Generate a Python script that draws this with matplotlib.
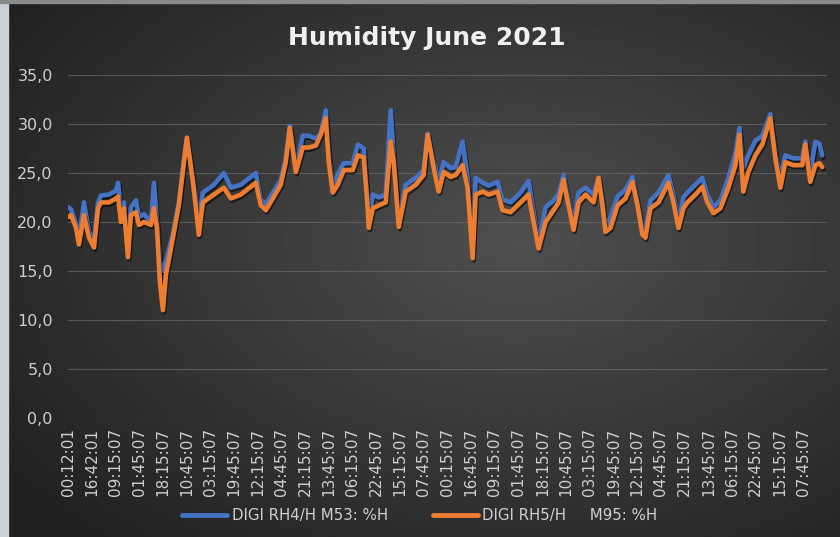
import numpy as np
import matplotlib.pyplot as plt
import matplotlib.patheffects as pe
from matplotlib.ticker import FuncFormatter

# time axis: hours since first sample (one label every 16.5 h)
tick_labels = ["00:12:01", "16:42:01", "09:15:07", "01:45:07", "18:15:07", "10:45:07",
               "03:15:07", "19:45:07", "12:15:07", "04:45:07", "21:15:07", "13:45:07",
               "06:15:07", "22:45:07", "15:15:07", "07:45:07", "00:15:07", "16:45:07",
               "09:15:07", "01:45:07", "18:15:07", "10:45:07", "03:15:07", "19:45:07",
               "12:15:07", "04:45:07", "21:15:07", "13:45:07", "06:15:07", "22:45:07",
               "15:15:07", "07:45:07"]
tick_step = 16.5

# pixel column of each reading in the reference, converted to hours below
px = [67, 70, 75, 78, 83, 88, 93, 97, 100, 108, 115, 117, 120, 123, 127, 130, 135, 138,
      143, 150, 153, 156, 159, 162, 165, 172, 178, 183, 186, 192, 195, 198, 202, 213,
      223, 230, 240, 255, 260, 265, 272, 280, 285, 289, 295, 302, 308, 315, 320, 325,
      328, 332, 337, 343, 352, 357, 363, 367, 368, 372, 378, 385, 390, 393, 398, 405,
      415, 423, 427, 432, 435, 438, 443, 450, 455, 462, 467, 472, 475, 482, 488, 497,
      502, 510, 520, 528, 533, 538, 545, 553, 558, 563, 568, 573, 578, 585, 593, 598,
      602, 605, 610, 617, 625, 632, 637, 642, 645, 650, 658, 668, 673, 678, 683, 687,
      695, 702, 707, 713, 720, 728, 735, 739, 743, 748, 755, 762, 770, 775, 780, 785,
      793, 802, 805, 810, 815, 819, 822]
hours = [round((p - 67) / 23.74 * tick_step, 1) for p in px]

rh4 = [21.5, 21.3, 19.8, 18.2, 22.0, 19.0, 18.0, 22.0, 22.7, 22.8, 23.2, 24.0, 21.0, 22.0,
       17.0, 21.5, 22.2, 20.5, 20.8, 20.0, 24.0, 20.0, 16.0, 15.0, 16.0, 18.8, 22.0, 26.3,
       28.6, 24.5, 22.5, 20.0, 23.0, 23.8, 25.0, 23.5, 23.8, 25.0, 22.3, 21.8, 23.0, 24.3,
       26.5, 29.8, 25.6, 28.8, 28.8, 28.5, 29.0, 31.4, 27.0, 23.6, 24.9, 26.0, 26.0, 27.9,
       27.5, 22.0, 20.0, 22.8, 22.5, 22.8, 31.4, 26.5, 20.0, 23.8, 24.5, 25.3, 29.0, 26.5,
       25.5, 24.0, 26.1, 25.5, 25.6, 28.2, 24.5, 17.0, 24.5, 24.0, 23.7, 24.1, 22.3, 22.0,
       23.0, 24.2, 21.0, 17.8, 21.5, 22.2, 22.8, 24.8, 22.3, 19.8, 23.0, 23.5, 22.8, 24.5,
       22.3, 19.5, 20.5, 22.6, 23.3, 24.6, 22.0, 19.3, 19.0, 22.2, 23.0, 24.8, 22.8, 20.0,
       22.5, 23.0, 23.8, 24.5, 22.8, 21.5, 22.2, 24.5, 27.0, 29.6, 25.5, 26.8, 28.3, 28.8,
       31.0, 27.0, 24.5, 26.8, 26.5, 26.5, 28.2, 25.0, 28.2, 28.0, 26.8]
rh5 = [20.5, 20.7, 19.4, 17.7, 20.7, 18.4, 17.4, 21.4, 22.0, 22.0, 22.4, 22.6, 20.0, 21.4,
       16.4, 20.7, 21.0, 19.7, 20.0, 19.7, 21.4, 19.4, 13.9, 11.0, 14.6, 18.4, 21.7, 26.0,
       28.6, 24.1, 21.4, 18.7, 22.0, 22.8, 23.5, 22.4, 22.8, 24.0, 21.7, 21.2, 22.4, 23.8,
       26.1, 29.6, 25.1, 27.6, 27.6, 27.8, 28.9, 30.6, 26.1, 23.0, 23.8, 25.3, 25.3, 26.8,
       26.6, 21.4, 19.4, 21.4, 21.7, 22.0, 28.2, 26.1, 19.5, 23.1, 23.8, 24.8, 28.9, 26.1,
       24.5, 23.1, 25.1, 24.6, 24.8, 25.8, 23.5, 16.3, 22.8, 23.1, 22.8, 23.1, 21.2, 21.0,
       22.0, 22.8, 20.0, 17.3, 20.0, 21.2, 22.0, 24.3, 21.7, 19.2, 22.0, 22.8, 22.0, 24.5,
       21.7, 19.0, 19.4, 21.7, 22.4, 24.1, 21.7, 18.7, 18.4, 21.4, 22.0, 24.0, 22.0, 19.4,
       21.4, 22.0, 22.8, 23.6, 22.0, 20.9, 21.4, 23.5, 25.8, 28.9, 23.1, 25.1, 26.8, 27.9,
       30.6, 26.5, 23.5, 26.1, 25.8, 25.8, 27.9, 24.1, 25.8, 26.0, 25.6]

series_names = ["DIGI RH4/H M53: %H", "DIGI RH5/H     M95: %H"]
colors = ["#4472C4", "#ED7D31"]

fig = plt.figure(figsize=(8.4, 5.37), dpi=100)

# dark radial background like the Excel chart style
bg = fig.add_axes([0, 0, 1, 1], zorder=-10)
yy, xx = np.mgrid[0:1:200j, 0:1:320j]
r = np.sqrt(((xx - 0.62) / 0.75) ** 2 + ((yy - 0.55) / 0.75) ** 2)
shade = np.clip(1 - r, 0, 1)
bg.imshow(0.13 + 0.18 * shade, cmap="gray", vmin=0, vmax=1, aspect="auto",
          extent=[0, 1, 0, 1], origin="lower")
bg.add_patch(plt.Rectangle((0, 0), 0.009, 1, color="#c9d1d9", transform=bg.transAxes))
bg.add_patch(plt.Rectangle((0, 0.994), 1, 0.006, color="#8a8a8a", transform=bg.transAxes))
bg.set_axis_off()

ax = fig.add_axes([0.081, 0.2216, 0.9035, 0.6387])
ax.set_facecolor("none")

shadow = [pe.SimpleLineShadow(offset=(0.8, -1.5), shadow_color="black", alpha=0.55), pe.Normal()]
for vals, name, c in zip([rh4, rh5], series_names, colors):
    ax.plot(hours, vals, color=c, lw=3.3, label=name, solid_joinstyle="round",
            solid_capstyle="round", path_effects=shadow)

ax.set_ylim(0, 35)
ax.set_yticks(np.arange(0, 36, 5))
ax.yaxis.set_major_formatter(FuncFormatter(lambda v, _: f"{v:.1f}".replace(".", ",")))
ax.set_xlim(0, len(tick_labels) * tick_step)
ax.set_xticks([i * tick_step for i in range(len(tick_labels))])
ax.set_xticklabels(tick_labels, rotation=90)
ax.grid(axis="y", color="#6a6a6a", lw=0.8, alpha=0.7)
ax.set_axisbelow(True)
for s in ax.spines.values():
    s.set_visible(False)
ax.tick_params(axis="both", length=0, colors="#cfcfcf")
ax.tick_params(axis="y", pad=11, labelsize=11.5)
ax.tick_params(axis="x", pad=7, labelsize=11)

fig.text(0.508, 0.93, "Humidity June 2021", ha="center", va="center", fontsize=18,
         fontweight="bold", color="#f0f0f0", family="DejaVu Sans")

leg = fig.legend(loc="center", bbox_to_anchor=(0.5, 0.04), ncol=2, frameon=False,
                 fontsize=10.8, handlelength=3.0, columnspacing=3.0, handletextpad=0.3)
for t in leg.get_texts():
    t.set_color("#d0d0d0")
for l in leg.get_lines():
    l.set_linewidth(3.5)
    l.set_path_effects([])

fig.savefig("out.png", dpi=100)
